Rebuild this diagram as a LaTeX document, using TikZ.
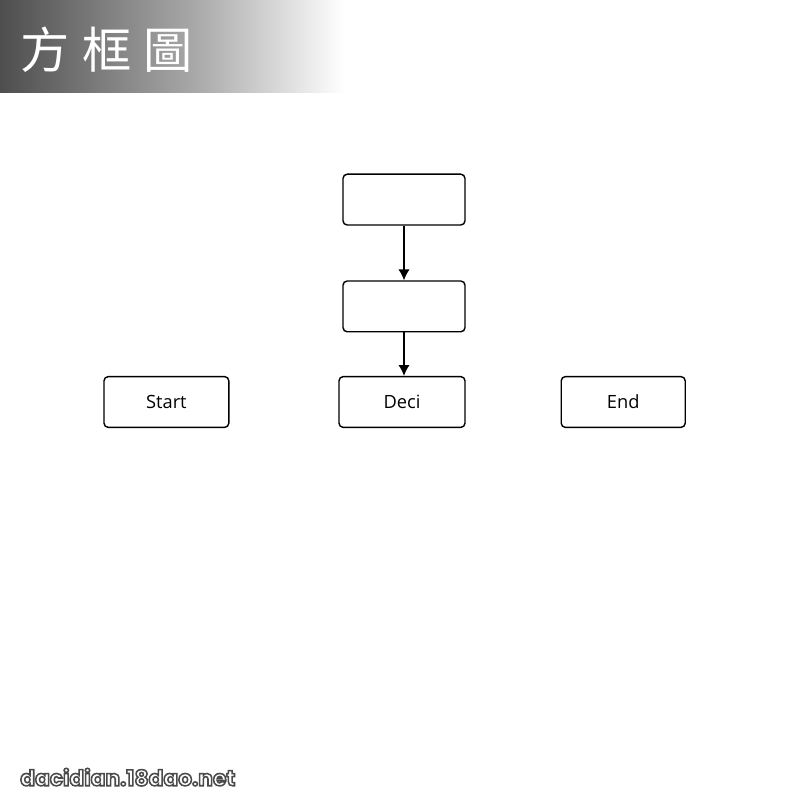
\documentclass[tikz,border=0pt]{standalone}
\usepackage{fontspec}
\setsansfont{Open Sans}
\newfontfamily\cjktitle{Noto Sans CJK TC}
\newfontfamily\markfont{Poppins}[BoldFont={* Bold}]
\usepackage{tikz}
\usetikzlibrary{arrows.meta}
\definecolor{bannerdark}{HTML}{4E4E4E}
\definecolor{bannermid}{HTML}{ABABAB}
% outlined text: fill white, stroke dark gray
\newcommand{\outlined}[1]{\special{pdf:literal q 2 Tr 1.1 w 0.29 0.29 0.29 RG 1 1 1 rg}#1\special{pdf:literal Q}}

\begin{document}
\begin{tikzpicture}[>={Latex[length=2.7mm,width=2.8mm]},
  flowbox/.style={draw, line width=1pt, rounded corners=3pt, minimum height=1.27cm,
    font=\sffamily\fontsize{13}{15}\selectfont, inner sep=0pt},
  flowarrow/.style={->, line width=0.9pt}]
\useasboundingbox (0,0) rectangle (20,20);
% title banner
\shade[left color=bannerdark, right color=bannermid] (0,17.68) rectangle (5,20);
\shade[left color=bannermid, right color=white] (5,17.68) rectangle (8.6,20);
\node[anchor=west, inner sep=0pt, text=white] (title) at (0.5,18.75)
  {\cjktitle\fontsize{35}{38}\selectfont 方\hspace{9pt}框\hspace{9pt}圖};

% boxes
\node[flowbox, minimum width=3.05cm] (top) at (10.1,15.01) {};
\node[flowbox, minimum width=3.05cm] (mid) at (10.1,12.34) {};
\node[flowbox, minimum width=3.15cm] (deci) at (10.05,9.95) {Deci};
\node[flowbox, minimum width=3.12cm] (start) at (4.16,9.95) {Start};
\node[flowbox, minimum width=3.1cm] (end) at (15.58,9.95) {End};

\draw[flowarrow] (top.south) -- (mid.north);
\draw[flowarrow] (mid.south) -- (mid.south |- deci.north);

% watermark
\node[anchor=west, inner sep=0pt] (mark) at (0.5,0.57)
  {\markfont\bfseries\fontsize{15.5}{17}\selectfont\outlined{dacidian.18dao.net}};
\end{tikzpicture}
\end{document}
